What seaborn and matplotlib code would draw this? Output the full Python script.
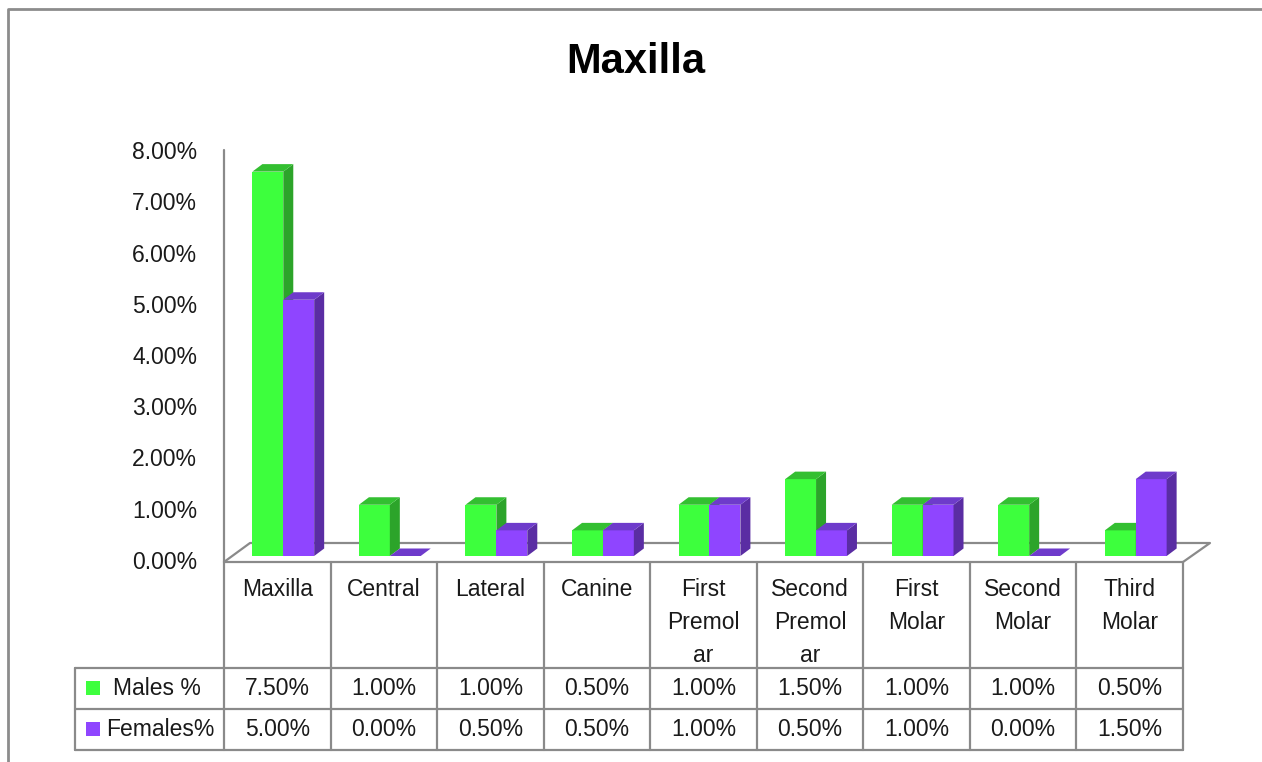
import numpy as np
import pandas as pd
import seaborn as sns
import matplotlib
matplotlib.use("Agg")
import matplotlib.pyplot as plt
from matplotlib.patches import Polygon, Rectangle
from matplotlib.transforms import ScaledTranslation

# data
teeth = ["Maxilla", "Central", "Lateral", "Canine", "First\nPremol\nar",
         "Second\nPremol\nar", "First\nMolar", "Second\nMolar", "Third\nMolar"]
males = [7.5, 1.0, 1.0, 0.5, 1.0, 1.5, 1.0, 1.0, 0.5]
females = [5.0, 0.0, 0.5, 0.5, 1.0, 0.5, 1.0, 0.0, 1.5]
series = ["Males %", "Females%"]
yticks = [0, 1, 2, 3, 4, 5, 6, 7, 8]

df = pd.DataFrame({
    "Tooth": teeth * 2,
    "Pct": males + females,
    "Sex": [series[0]] * len(teeth) + [series[1]] * len(teeth),
})

GREEN = "#3dff3d"
GREEN_SIDE = "#2ca42a"
GREEN_TOP = "#33bf31"
PURPLE = "#8f45ff"
PURPLE_SIDE = "#5a2da3"
PURPLE_TOP = "#6e3bcb"
GRID = "#8a8a8a"
TEXT = "#1a1a1a"
FONT = "Liberation Sans"

sns.set_theme(style="white")
plt.rcParams["font.family"] = [FONT, "DejaVu Sans"]

W, H = 1262, 762
fig = plt.figure(figsize=(W / 100, H / 100), dpi=100)

# background axes in pixel coords for frame, floor and data table
bg = fig.add_axes([0, 0, 1, 1], zorder=0)
bg.set_xlim(0, W)
bg.set_ylim(H, 0)
bg.axis("off")

# main plot axes (bars)
x_left, x_right = 230, 1189
y_base, y_top = 556, 146
ax = fig.add_axes([x_left / W, (H - y_base) / H, (x_right - x_left) / W, (y_base - y_top) / H], zorder=1)
ax.patch.set_visible(False)

sns.barplot(data=df, x="Tooth", y="Pct", hue="Sex", order=teeth, hue_order=series,
            palette=[GREEN, PURPLE], width=0.58, saturation=1, legend=False, ax=ax,
            edgecolor="none", linewidth=0)
ax.set_xlim(-0.5, len(teeth) - 0.5)
ax.set_ylim(0, 8)
ax.set_xticks([])
ax.set_xlabel("")
ax.set_ylabel("")
ax.set_yticks(yticks)
ax.set_yticklabels([f"{v:.2f}%" for v in yticks], fontsize=16.5, color=TEXT)
ax.tick_params(axis="y", length=0, pad=23.5)
for lab in ax.get_yticklabels():
    lab.set_transform(lab.get_transform() + ScaledTranslation(0, -0.04, fig.dpi_scale_trans))
for s in ax.spines.values():
    s.set_visible(False)

# fake 3D depth for each bar: top and side faces
dx, dy = 10, 7.5
T = ax.transData
inv = T.inverted()
patches = sorted([p for p in ax.patches if isinstance(p, Rectangle)], key=lambda p: p.get_x())
for k, p in enumerate(patches):
    x0, w, h = p.get_x(), p.get_width(), p.get_height()
    is_green = matplotlib.colors.to_hex(p.get_facecolor()) == GREEN
    side_c = GREEN_SIDE if is_green else PURPLE_SIDE
    top_c = GREEN_TOP if is_green else PURPLE_TOP
    z = 2 + k * 0.01
    p.set_zorder(z)
    a = T.transform([(x0, h), (x0 + w, h), (x0 + w, 0)])
    top = [a[0], a[1], a[1] + (dx, dy), a[0] + (dx, dy)]
    side = [a[2], a[1], a[1] + (dx, dy), a[2] + (dx, dy)]
    ax.add_patch(Polygon(inv.transform(side), closed=True, fc=side_c, ec="none", zorder=z))
    ax.add_patch(Polygon(inv.transform(top), closed=True, fc=top_c, ec="none", zorder=z))

lw = 1.6
# outer chart border
bg.plot([8, 8, W], [H, 9, 9], color="#8c8c8c", lw=2)

# title
bg.text(636, 62, "Maxilla", ha="center", va="center", fontsize=30, fontweight="bold", color="black")

# value axis line and floor
bg.plot([224, 224], [150, 562], color=GRID, lw=lw)
bg.plot([224, 250, 1210, 1183], [562, 543, 543, 562], color=GRID, lw=lw)

# data table
edges = np.linspace(224, 1183, len(teeth) + 1)
row_top, row1, row2, row3 = 562, 668, 709, 750
bg.plot([224, 1183], [row_top, row_top], color=GRID, lw=lw)
for yv in (row1, row2, row3):
    bg.plot([75, 1183], [yv, yv], color=GRID, lw=lw)
for xv in edges:
    bg.plot([xv, xv], [row_top, row3], color=GRID, lw=lw)
bg.plot([75, 75], [row1, row3], color=GRID, lw=lw)

centers = (edges[:-1] + edges[1:]) / 2
for cx, name, m, f in zip(centers, teeth, males, females):
    bg.text(cx, 578, name, ha="center", va="top", fontsize=16.5, color=TEXT, linespacing=1.55)
    bg.text(cx, (row1 + row2) / 2, f"{m:.2f}%", ha="center", va="center", fontsize=16.5, color=TEXT)
    bg.text(cx, (row2 + row3) / 2, f"{f:.2f}%", ha="center", va="center", fontsize=16.5, color=TEXT)

# legend keys inside table
bg.add_patch(Rectangle((86, 681), 14, 14, fc=GREEN, ec="none"))
bg.text(113, (row1 + row2) / 2, series[0], ha="left", va="center", fontsize=16.5, color=TEXT)
bg.add_patch(Rectangle((86, 722), 14, 14, fc=PURPLE, ec="none"))
bg.text(106, (row2 + row3) / 2, series[1], ha="left", va="center", fontsize=16.5, color=TEXT)

fig.savefig("out.png", dpi=100, facecolor="white")
